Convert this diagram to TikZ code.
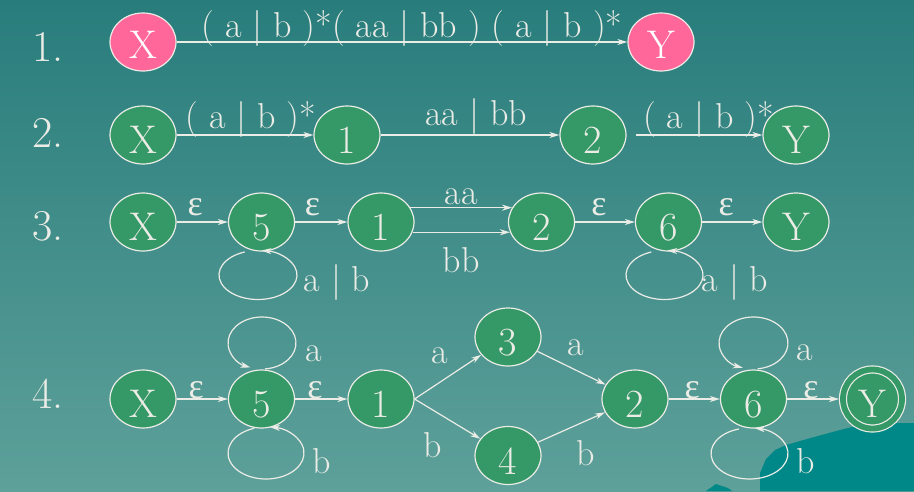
\documentclass[tikz,border=0pt]{standalone}
\usepackage{fontspec}
\newfontfamily\epsfont{Liberation Serif}
\newcommand{\eps}{{\epsfont ε}}
\usepackage{tikz}
\usetikzlibrary{arrows.meta,shapes.geometric}
\definecolor{bgtop}{RGB}{40,125,124}
\definecolor{bgbot}{RGB}{94,160,154}
\definecolor{blobteal}{RGB}{0,136,136}
\definecolor{stgreen}{RGB}{53,153,103}
\definecolor{stpink}{RGB}{255,102,153}
\definecolor{ink}{RGB}{236,236,230}
\begin{document}
\begin{tikzpicture}[x=1pt, y=1pt, >={Stealth[length=10pt,width=6pt,inset=3pt]},
    state/.style={ellipse, draw=ink, fill=stgreen, text=ink, line width=1.2pt,
      minimum width=66pt, minimum height=58pt, inner sep=0pt,
      text height=37pt, text depth=0pt, font=\fontsize{40}{40}\selectfont},
    endstate/.style={state, fill=stpink, text=white, text height=32pt},
    final/.style={state, circle, minimum size=59pt, double=stgreen,
      double distance=5.8pt, outer sep=4pt},
    lab/.style={anchor=base, text=ink, inner sep=0pt, font=\fontsize{36}{36}\selectfont},
    rownum/.style={anchor=base, text=ink, font=\fontsize{44}{44}\selectfont},
    trans/.style={draw=ink, line width=1.2pt}]
    \useasboundingbox (0,0) rectangle (914,-491);
    \shade[top color=bgtop, bottom color=bgbot] (0,0) rectangle (914,-491);
    \fill[blobteal] (760,-491) -- (760,-473) -- (766,-459) -- (775,-450) -- (786,-445)
      -- (800,-441) -- (818,-436) -- (840,-430) -- (852,-427) -- (875,-425)
      -- (898,-423) -- (914,-423) -- (914,-491) -- cycle;
    \fill[blobteal] (706,-491) -- (716,-484) -- (728,-488) -- (732,-491) -- cycle;

    % 1.
    \node[rownum] (num1) at (48,-61) {1.};
    \node[endstate] (x1) at (143,-42) {X};
    \node[endstate] (y1) at (661,-42) {Y};
    \draw[trans,->] (x1) -- node[lab, yshift=5pt, xshift=10pt] {( a | b )*( aa | bb ) ( a | b )*} (y1);

    % 2.
    \node[rownum] (num2) at (48,-147) {2.};
    \node[state] (x2) at (143,-135) {X};
    \node[state] (n12) at (347,-135) {1};
    \node[state] (n22) at (593,-135) {2};
    \node[state] (y2) at (796,-135) {Y};
    \draw[trans,->] (x2) -- node[lab, yshift=7pt, xshift=6pt] {( a | b )*} (n12);
    \draw[trans,->] (n12) -- node[lab, yshift=10pt, xshift=6pt] {aa | bb} (n22);
    \draw[trans,->, shorten <=9pt] (n22) -- node[lab, yshift=7pt, xshift=14pt] {( a | b )*} (y2);

    % 3.
    \node[rownum] (num3) at (48,-240) {3.};
    \node[state] (x3) at (143,-222) {X};
    \node[state] (n53) at (261.5,-222) {5};
    \node[state] (n13) at (381,-222) {1};
    \node[state] (n23) at (541.5,-222) {2};
    \node[state] (n63) at (668.5,-222) {6};
    \node[state] (y3) at (796,-222) {Y};
    \draw[trans,->] (x3) -- node[lab, pos=0.36, yshift=7pt] {\eps} (n53);
    \draw[trans,->] (n53) -- node[lab, pos=0.33, yshift=7pt] {\eps} (n13);
    \draw[trans,->] (n13.26) -- node[lab, yshift=3pt] {aa} (n23.154);
    \draw[trans,->] (n13.-18) -- node[lab, yshift=-40pt] {bb} (n23.-162);
    \draw[trans,->] (n23) -- node[lab, pos=0.4, yshift=7pt] {\eps} (n63);
    \draw[trans,->] (n63) -- node[lab, pos=0.4, yshift=7pt] {\eps} (y3);
    \draw[trans,->] (258,-275) ++(110:39 and 24.5) arc[start angle=110, end angle=445, x radius=39, y radius=24.5];
    \draw[trans,->] (664.5,-275) ++(110:38.5 and 24.5) arc[start angle=110, end angle=446, x radius=38.5, y radius=24.5];
    \node[lab] (ab53) at (337,-291) {a | b};
    \node[lab] (ab63) at (735,-291) {a | b};

    % 4.
    \node[rownum] (num4) at (48,-408) {4.};
    \node[state] (x4) at (143,-399) {X};
    \node[state] (n54) at (261.5,-399) {5};
    \node[state] (n14) at (381,-399) {1};
    \node[state] (n34) at (508,-337) {3};
    \node[state] (n44) at (508,-455.5) {4};
    \node[state] (n24) at (635,-399) {2};
    \node[state] (n64) at (753.5,-399) {6};
    \node[final] (y4) at (872.5,-399) {Y};
    \draw[trans,->] (x4) -- node[lab, pos=0.38, yshift=1pt] {\eps} (n54);
    \draw[trans,->] (n54) -- node[lab, pos=0.38, yshift=1pt] {\eps} (n14);
    \draw[trans,->] (n14.east) -- (n34);
    \draw[trans,->] (n14.east) -- (n44);
    \draw[trans,->] (n34) -- (n24);
    \draw[trans,->] (n44) -- (n24);
    \draw[trans,->] (n24) -- node[lab, pos=0.46, yshift=1pt] {\eps} (n64);
    \draw[trans,->] (n64) -- node[lab, pos=0.46, yshift=1pt] {\eps} (y4);
    \draw[trans,->] (262,-343) ++(275:34 and 26) arc[start angle=275, end angle=610, x radius=34, y radius=26];
    \draw[trans,->] (266,-453) ++(108:38 and 26) arc[start angle=108, end angle=444, x radius=38, y radius=26];
    \draw[trans,->] (753.5,-343) ++(277:34.5 and 26) arc[start angle=277, end angle=612, x radius=34.5, y radius=26];
    \draw[trans,->] (749.5,-453.5) ++(106:38.5 and 25.5) arc[start angle=106, end angle=442, x radius=38.5, y radius=25.5];
    \node[lab] (a54) at (313.5,-361) {a};
    \node[lab] (b54) at (322,-473) {b};
    \node[lab] (a13) at (440,-363) {a};
    \node[lab] (b14) at (433,-457) {b};
    \node[lab] (a32) at (576,-355) {a};
    \node[lab] (b42) at (586,-465) {b};
    \node[lab] (a64) at (805,-360) {a};
    \node[lab] (b64) at (806,-473) {b};
\end{tikzpicture}
\end{document}
